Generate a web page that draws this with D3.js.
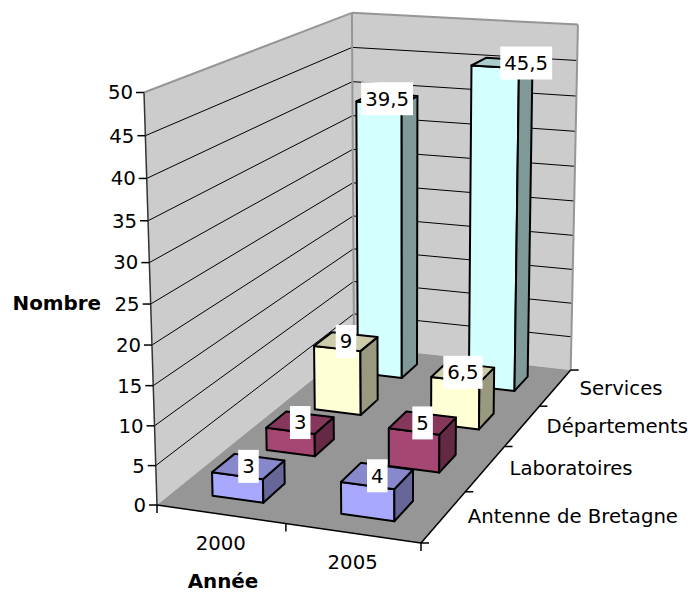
<!DOCTYPE html>
<html lang="fr">
<head>
  <meta charset="utf-8">
  <script src="https://d3js.org/d3.v7.min.js"></script>
  <style>
    body { margin: 0; background: white; }
    text { font-family: "DejaVu Sans", sans-serif; font-size: 19.7px; fill: #000; }
    .title { font-weight: bold; font-size: 19.9px; }
  </style>
</head>
<body>
<div id="chart"></div>
<script>
  var years = ["2000", "2005"];
  var categories = ["Antenne de Bretagne", "Laboratoires", "Départements", "Services"];
  var values2000 = [3, 3, 9, 39.5];
  var values2005 = [4, 5, 6.5, 45.5];
  var faceColors = ["#A8A8FF", "#A64673", "#FFFFD6", "#D4FFFF"];
  var topColors = ["#8888CC", "#85385C", "#CCCCAB", "#A9CCCC"];
  var sideColors = ["#666699", "#642A45", "#999980", "#7F9999"];

  var width = 688, height = 593;

  var svg = d3.select("#chart").append("svg")
    .attr("width", width)
    .attr("height", height);

  // unit cube coordinates, x = years, z = depth, y = value
  var x = d3.scaleBand().domain(years).range([0, 1]).paddingInner(0.6).paddingOuter(0.3);
  var z = d3.scaleBand().domain(categories).range([0, 1]).paddingInner(0.6).paddingOuter(0.3);
  var y = d3.scaleLinear().domain([0, 50]).range([0, 1]);

  // perspective of the cube: origin corner, the three axis ends and their weights
  var O = [157, 505], A = [421, 543], B = [144, 92.5], C = [354, 346];
  var wx = 0.954, wy = 0.95, wz = 1.25;

  function project(px, py, pz) {
    var w = 1 + px * (wx - 1) + py * (wy - 1) + pz * (wz - 1);
    return [0, 1].map(function (i) {
      return (O[i] + px * (wx * A[i] - O[i]) + py * (wy * B[i] - O[i]) + pz * (wz * C[i] - O[i])) / w;
    });
  }

  var line = d3.line();

  function poly(points, fill, stroke, strokeWidth) {
    svg.append("path")
      .attr("d", line(points) + "Z")
      .attr("fill", fill)
      .attr("stroke", stroke)
      .attr("stroke-width", strokeWidth)
      .attr("stroke-linejoin", "round");
  }

  function seg(a, b, stroke, strokeWidth) {
    svg.append("path")
      .attr("d", line([a, b]))
      .attr("fill", "none")
      .attr("stroke", stroke)
      .attr("stroke-width", strokeWidth);
  }

  // walls and floor
  poly([project(0, 0, 0), project(0, 1, 0), project(0, 1, 1), project(0, 0, 1)], "#CCCCCC", "none", 0);
  poly([project(0, 0, 1), project(0, 1, 1), project(1, 1, 1), project(1, 0, 1)], "#CCCCCC", "none", 0);
  poly([project(0, 0, 0), project(1, 0, 0), project(1, 0, 1), project(0, 0, 1)], "#969696", "none", 0);

  // gridlines
  var yTicks = y.ticks(10);
  yTicks.forEach(function (t) {
    if (t === 0 || t === 50) return;
    seg(project(0, y(t), 0), project(0, y(t), 1), "#000", 1);
    seg(project(0, y(t), 1), project(1, y(t), 1), "#000", 1);
  });

  // wall edges
  seg(project(0, 1, 0), project(0, 1, 1), "#969696", 2);
  seg(project(0, 1, 1), project(1, 1, 1), "#969696", 2);
  seg(project(0, 1, 1), project(0, 0, 1), "#969696", 2);
  seg(project(1, 1, 1), project(1, 0, 1), "#969696", 2);

  // axes
  seg(project(0, 0, 0), project(0, 1, 0), "#333", 1.5);
  seg(project(0, 0, 0), project(1, 0, 0), "#000", 1.5);
  seg(project(1, 0, 0), project(1, 0, 1), "#000", 1.5);

  yTicks.forEach(function (t) {
    var p = project(0, y(t), 0);
    seg([p[0] - 8, p[1]], p, "#000", 1.5);
    svg.append("text")
      .attr("x", p[0] - 11)
      .attr("y", p[1])
      .attr("dy", "0.35em")
      .attr("text-anchor", "end")
      .text(t);
  });

  [0, 0.5, 1].forEach(function (t) {
    var p = project(t, 0, 0);
    seg(p, [p[0], p[1] + 8], "#000", 1.5);
  });

  [0, 0.25, 0.5, 0.75, 1].forEach(function (t) {
    var p = project(1, 0, t);
    seg(p, [p[0] + 8, p[1]], "#000", 1.5);
  });

  years.forEach(function (d) {
    var p = project(x(d) + x.bandwidth() / 2, 0, 0);
    svg.append("text")
      .attr("x", p[0])
      .attr("y", p[1] + 28.5)
      .attr("dy", "0.35em")
      .attr("text-anchor", "middle")
      .text(d);
  });

  categories.forEach(function (d) {
    var p = project(1, 0, z(d) + z.bandwidth() / 2);
    svg.append("text")
      .attr("x", p[0] + 24)
      .attr("y", p[1])
      .attr("dy", "0.35em")
      .text(d);
  });

  svg.append("text").attr("class", "title")
    .attr("x", 12.5).attr("y", 303).attr("dy", "0.35em").text("Nombre");
  svg.append("text").attr("class", "title")
    .attr("x", 223).attr("y", 588).attr("text-anchor", "middle").text("Année");

  // bars, back row first
  var labels = [];
  d3.range(categories.length - 1, -1, -1).forEach(function (c) {
    [values2000, values2005].forEach(function (series, s) {
      var x0 = x(years[s]), x1 = x0 + x.bandwidth();
      var z0 = z(categories[c]), z1 = z0 + z.bandwidth();
      var h = y(series[c]);
      poly([project(x0, 0, z0), project(x1, 0, z0), project(x1, h, z0), project(x0, h, z0)], faceColors[c], "#000", 2);
      poly([project(x1, 0, z0), project(x1, 0, z1), project(x1, h, z1), project(x1, h, z0)], sideColors[c], "#000", 2);
      poly([project(x0, h, z0), project(x1, h, z0), project(x1, h, z1), project(x0, h, z1)], topColors[c], "#000", 2);
      labels.push({v: series[c], p: project((x0 + x1) / 2, h, (z0 + z1) / 2)});
    });
  });

  // value labels sit on top of everything, on white boxes
  labels.forEach(function (d) {
    // the 45,5 label was dragged to the right in the original chart
    var shift = d.v === 45.5 ? 24 : 0;
    var g = svg.append("g").attr("transform", "translate(" + (d.p[0] + shift) + "," + d.p[1] + ")");
    var rect = g.append("rect").attr("fill", "white");
    var t = g.append("text")
      .attr("dy", "0.35em")
      .attr("text-anchor", "middle")
      .text(String(d.v).replace(".", ","));
    var w = t.node().getComputedTextLength() + 8;
    rect.attr("x", -w / 2).attr("y", -16.5).attr("width", w).attr("height", 33);
  });
</script>
</body>
</html>
